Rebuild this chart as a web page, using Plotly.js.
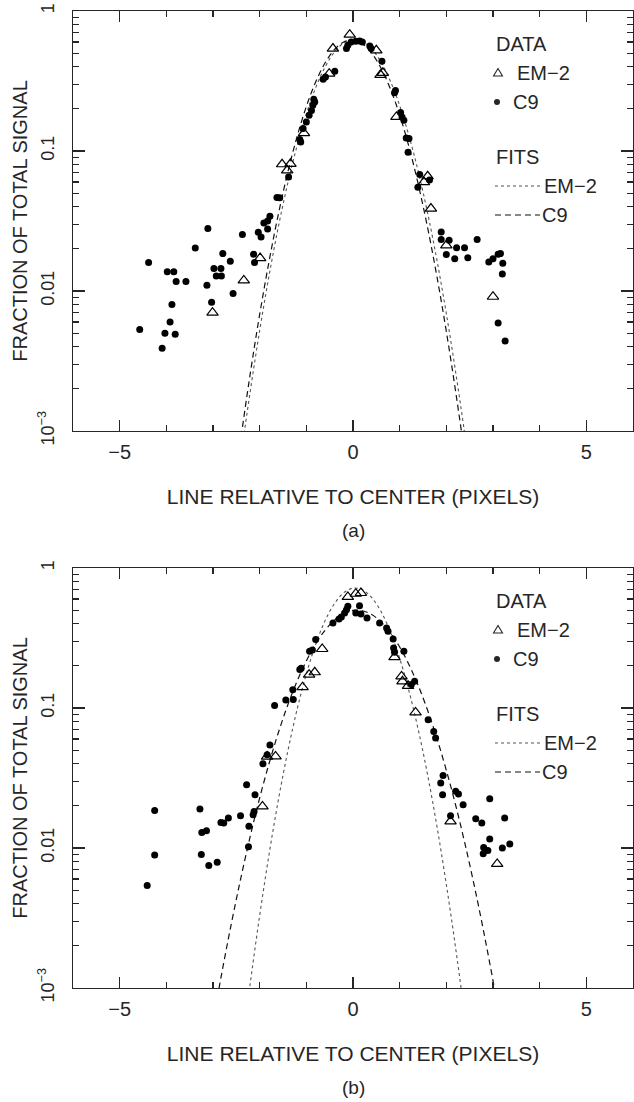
<!DOCTYPE html>
<html>
<head>
<meta charset="utf-8">
<script src="https://cdn.plot.ly/plotly-3.0.1.min.js"></script>
<style>html,body{margin:0;padding:0;background:#fff}#chart{width:634px;height:1102px}</style>
</head>
<body>
<div id="chart"></div>
<script>
// ---------- Panel (a) data ----------
const xC9a = [-4.57,-4.38,-4.09,-4.03,-3.98,-3.92,-3.88,-3.84,-3.81,-3.79,-3.58,-3.38,-3.13,-3.11,-3.03,-2.98,-2.93,-2.83,-2.82,-2.79,-2.63,-2.57,-2.37,-2.13,-2.11,-2.03,-1.97,-1.91,-1.83,-1.83,-1.78,-1.63,-1.57,-1.38,-1.14,-1.12,-1.07,-1.00,-0.94,-0.89,-0.86,-0.84,-0.82,-0.64,-0.59,-0.39,-0.14,-0.11,-0.04,0.06,0.14,0.20,0.36,0.39,0.62,0.89,0.91,1.02,1.05,1.09,1.14,1.18,1.20,1.39,1.43,1.64,1.89,1.89,2.00,2.06,2.18,2.22,2.39,2.46,2.66,2.91,3.00,3.11,3.16,3.21,3.20,3.11,3.26];
const yC9a = [0.0053,0.0160,0.0039,0.0050,0.0137,0.0060,0.0080,0.0137,0.0049,0.0117,0.0117,0.0203,0.0110,0.0280,0.0083,0.0145,0.0128,0.0145,0.0128,0.0185,0.0163,0.0096,0.0253,0.0183,0.0160,0.0263,0.0243,0.0306,0.0316,0.0277,0.0342,0.0465,0.0463,0.0652,0.1206,0.116,0.1445,0.161,0.180,0.195,0.212,0.234,0.224,0.325,0.338,0.371,0.539,0.569,0.601,0.608,0.610,0.600,0.562,0.539,0.437,0.261,0.270,0.188,0.175,0.166,0.124,0.098,0.123,0.055,0.068,0.062,0.0264,0.0233,0.0182,0.0230,0.0170,0.0204,0.0204,0.0173,0.0233,0.0161,0.0170,0.0183,0.0185,0.0158,0.0132,0.0059,0.0044];
const xEMa = [-3.01,-2.34,-1.99,-1.52,-1.41,-1.34,-1.05,-0.51,-0.43,-0.07,0.50,0.59,0.64,0.93,1.52,1.60,1.67,2.00,3.00];
const yEMa = [0.0070,0.0119,0.0172,0.0804,0.0728,0.0810,0.134,0.357,0.539,0.678,0.524,0.350,0.362,0.175,0.060,0.066,0.0388,0.0212,0.0091];
const fitXa = [-2.6,-2.4,-2.2,-2.0,-1.8,-1.6,-1.4,-1.2,-1.0,-0.8,-0.6,-0.4,-0.2,0,0.2,0.4,0.6,0.8,1.0,1.2,1.4,1.6,1.8,2.0,2.2,2.4,2.6];
const fitEMa = [0.00020,0.00066,0.00194,0.00522,0.0128,0.0287,0.0584,0.1085,0.1835,0.283,0.397,0.508,0.592,0.629,0.609,0.537,0.432,0.316,0.211,0.128,0.0710,0.0359,0.0165,0.0069,0.00263,0.00092,0.00029];
const fitC9a = [0.00029,0.00090,0.00259,0.0068,0.0162,0.0353,0.0699,0.126,0.208,0.311,0.425,0.529,0.600,0.619,0.583,0.500,0.391,0.278,0.181,0.107,0.0575,0.0282,0.0126,0.00514,0.00191,0.00065,0.00020];

// ---------- Panel (b) data ----------
const xC9b = [-4.41,-4.25,-4.25,-3.28,-3.25,-3.24,-3.14,-3.09,-2.91,-2.83,-2.77,-2.67,-2.41,-2.28,-2.24,-2.23,-2.14,-2.12,-2.10,-1.93,-1.84,-1.78,-1.68,-1.44,-1.28,-1.29,-1.14,-1.11,-0.93,-0.87,-0.80,-0.43,-0.30,-0.25,-0.18,-0.14,-0.11,0.06,0.14,0.17,0.30,0.57,0.72,0.75,0.86,0.87,0.89,1.09,1.25,1.32,1.61,1.73,1.77,1.88,1.92,1.93,2.09,2.20,2.26,2.36,2.63,2.76,2.79,2.80,2.89,2.93,2.93,3.20,3.25,3.36];
const yC9b = [0.0054,0.0185,0.0089,0.0190,0.0090,0.0129,0.0133,0.0075,0.0079,0.0152,0.0151,0.0164,0.0170,0.0283,0.0102,0.0143,0.0173,0.0182,0.0240,0.040,0.0464,0.0544,0.104,0.114,0.115,0.135,0.188,0.192,0.254,0.260,0.308,0.405,0.432,0.447,0.477,0.504,0.532,0.477,0.538,0.470,0.440,0.405,0.373,0.353,0.311,0.268,0.250,0.254,0.147,0.155,0.0825,0.068,0.061,0.0291,0.024,0.0330,0.0170,0.0254,0.0243,0.0204,0.0162,0.0151,0.0091,0.0101,0.0096,0.0225,0.0116,0.0100,0.0164,0.0107];
const xEMb = [-1.94,-1.84,-1.66,-1.08,-0.94,-0.82,-0.66,-0.11,0.06,0.17,0.89,1.04,1.06,1.18,1.34,2.09,3.09];
const yEMb = [0.0198,0.045,0.0451,0.141,0.173,0.180,0.264,0.621,0.655,0.663,0.231,0.168,0.155,0.144,0.093,0.0155,0.0077];
const fitXbEM = [-2.6,-2.4,-2.2,-2.0,-1.8,-1.6,-1.4,-1.2,-1.0,-0.8,-0.6,-0.4,-0.2,0,0.2,0.4,0.6,0.8,1.0,1.2,1.4,1.6,1.8,2.0,2.2,2.4,2.6];
const fitEMb = [0.000089,0.00033,0.00109,0.00329,0.00895,0.0220,0.0486,0.0971,0.175,0.285,0.419,0.555,0.665,0.718,0.700,0.615,0.489,0.350,0.226,0.132,0.0696,0.0331,0.0142,0.00549,0.00192,0.00061,0.00017];
const fitXbC9 = [-3.2,-3.0,-2.8,-2.6,-2.4,-2.2,-2.0,-1.8,-1.6,-1.4,-1.2,-1.0,-0.8,-0.6,-0.4,-0.2,0,0.2,0.4,0.6,0.8,1.0,1.2,1.4,1.6,1.8,2.0,2.2,2.4,2.6,2.8,3.0,3.2];
const fitC9b = [0.00023,0.00057,0.00134,0.00296,0.00618,0.0122,0.0228,0.0400,0.0666,0.1046,0.155,0.217,0.288,0.359,0.424,0.473,0.498,0.495,0.465,0.412,0.345,0.273,0.204,0.144,0.0960,0.0604,0.0359,0.0202,0.0107,0.00536,0.00253,0.00113,0.00048];

// ---------- Axis labels and texts ----------
const xTickVals = [-5,0,5];
const xTickText = ['\u22125','0','5'];
const xMinorVals = [-6,-4,-3,-2,-1,1,2,3,4,6];
const yTickVals = [0.001,0.01,0.1,1];
const yTickText = ['10<sup>\u22123</sup>','0.01','0.1','1'];
const yMinorVals = [0.002,0.003,0.004,0.005,0.006,0.007,0.008,0.009,0.02,0.03,0.04,0.05,0.06,0.07,0.08,0.09,0.2,0.3,0.4,0.5,0.6,0.7,0.8,0.9];
const xTitle = 'LINE RELATIVE TO CENTER (PIXELS)';
const yTitle = 'FRACTION OF TOTAL SIGNAL';
const panelLabels = ['(a)','(b)'];
const legendHead = ['DATA','FITS'];
const legendNames = ['EM\u22122','C9'];

const FONT = "'Liberation Sans',Arial,sans-serif";
const INK = '#262626';

function makeX(anchor){
  return {
    anchor: anchor, range:[-6,6], showline:true, linecolor:INK, linewidth:1.3, mirror:'ticks',
    ticks:'inside', ticklen:11, tickwidth:1.2, tickcolor:INK,
    tickmode:'array', tickvals:xTickVals, ticktext:xTickText,
    tickfont:{family:FONT, size:20, color:INK}, ticklabelstandoff:3,
    minor:{ticks:'inside', ticklen:6, tickwidth:1.2, tickcolor:INK, tickmode:'array', tickvals:xMinorVals, showgrid:false},
    showgrid:false, zeroline:false,
    title:{text:xTitle, font:{family:FONT, size:21, color:INK}, standoff:27}
  };
}
function makeY(anchor, domain){
  return {
    anchor: anchor, domain: domain, type:'log', range:[-3,0], showline:true, linecolor:INK, linewidth:1.3, mirror:'ticks',
    ticks:'inside', ticklen:12, tickwidth:1.2, tickcolor:INK,
    tickmode:'array', tickvals:yTickVals, ticktext:yTickText, tickangle:-90,
    tickfont:{family:FONT, size:18, color:INK}, ticklabelstandoff:11,
    minor:{ticks:'inside', ticklen:6, tickwidth:1.2, tickcolor:INK, tickmode:'array', tickvals:yMinorVals, showgrid:false},
    showgrid:false, zeroline:false,
    title:{text:yTitle, font:{family:FONT, size:20, color:INK}, standoff:2}
  };
}

function panelTraces(xa, ya, xC9, yC9, xEM, yEM, fxEM, fyEM, fxC9, fyC9){
  return [
    {type:'scatter', mode:'lines', x:fxEM, y:fyEM, xaxis:xa, yaxis:ya, line:{color:'#555', width:1.1, dash:'dot', shape:'spline'}, showlegend:false, hoverinfo:'skip'},
    {type:'scatter', mode:'lines', x:fxC9, y:fyC9, xaxis:xa, yaxis:ya, line:{color:'#111', width:1.2, dash:'6px,4px', shape:'spline'}, showlegend:false, hoverinfo:'skip'},
    {type:'scatter', mode:'markers', x:xC9, y:yC9, xaxis:xa, yaxis:ya, marker:{symbol:'circle', size:7, color:'#000'}, showlegend:false},
    {type:'scatter', mode:'markers', x:xEM, y:yEM, xaxis:xa, yaxis:ya, marker:{symbol:'triangle-up-open', size:10, color:'#000', line:{width:1.2, color:'#000'}}, showlegend:false}
  ];
}

const traces = [].concat(
  panelTraces('x','y', xC9a,yC9a, xEMa,yEMa, fitXa,fitEMa, fitXa,fitC9a),
  panelTraces('x2','y2', xC9b,yC9b, xEMb,yEMb, fitXbEM,fitEMb, fitXbC9,fitC9b)
);

// plot area: paper y=1 at py 11, paper y=0 at py 988 (977 px)
const H = 977, TOP = 11;
function py(p){ return (988 - p)/H; }
function px(p){ return (p - 73)/560; }

const annotations = [];
const shapes = [];
function addLegend(top){
  const tf = {family:FONT, size:20, color:INK};
  annotations.push({xref:'paper', yref:'paper', x:px(494), y:py(top+33), xanchor:'left', yanchor:'middle', text:legendHead[0], showarrow:false, font:tf});
  annotations.push({xref:'paper', yref:'paper', x:px(515), y:py(top+62), xanchor:'left', yanchor:'middle', text:legendNames[0], showarrow:false, font:tf});
  annotations.push({xref:'paper', yref:'paper', x:px(511), y:py(top+91), xanchor:'left', yanchor:'middle', text:legendNames[1], showarrow:false, font:tf});
  annotations.push({xref:'paper', yref:'paper', x:px(494), y:py(top+146), xanchor:'left', yanchor:'middle', text:legendHead[1], showarrow:false, font:tf});
  annotations.push({xref:'paper', yref:'paper', x:px(542), y:py(top+175), xanchor:'left', yanchor:'middle', text:legendNames[0], showarrow:false, font:tf});
  annotations.push({xref:'paper', yref:'paper', x:px(540), y:py(top+204), xanchor:'left', yanchor:'middle', text:legendNames[1], showarrow:false, font:tf});
  shapes.push({type:'path', xref:'paper', yref:'paper', xsizemode:'pixel', ysizemode:'pixel', xanchor:px(498), yanchor:py(top+62), path:'M-4.5,-3 L4.5,-3 L0,4.5 Z', line:{color:INK, width:1.1}, fillcolor:'rgba(0,0,0,0)'});
  shapes.push({type:'circle', xref:'paper', yref:'paper', xsizemode:'pixel', ysizemode:'pixel', xanchor:px(497), yanchor:py(top+91), x0:-3, x1:3, y0:-3, y1:3, line:{width:0}, fillcolor:INK});
  shapes.push({type:'line', xref:'paper', yref:'paper', x0:px(495), x1:px(542), y0:py(top+175), y1:py(top+175), line:{color:'#555', width:1.1, dash:'dot'}});
  shapes.push({type:'line', xref:'paper', yref:'paper', x0:px(495), x1:px(540), y0:py(top+204), y1:py(top+204), line:{color:'#111', width:1.2, dash:'6px,4px'}});
}
addLegend(11);
addLegend(568);
annotations.push({xref:'paper', yref:'paper', x:0.5, y:py(530), xanchor:'center', yanchor:'middle', text:panelLabels[0], showarrow:false, font:{family:FONT, size:19, color:INK}});
annotations.push({xref:'paper', yref:'paper', x:0.5, y:py(1087), xanchor:'center', yanchor:'middle', text:panelLabels[1], showarrow:false, font:{family:FONT, size:19, color:INK}});

const layout = {
  width:634, height:1102,
  margin:{l:73, r:1, t:TOP, b:114, pad:0},
  paper_bgcolor:'#fff', plot_bgcolor:'#fff',
  showlegend:false,
  font:{family:FONT, color:INK},
  xaxis: makeX('y'),
  yaxis: makeY('x', [1 - 420/H, 1]),
  xaxis2: makeX('y2'),
  yaxis2: makeY('x2', [0, 420/H]),
  annotations: annotations,
  shapes: shapes
};

Plotly.newPlot('chart', traces, layout, {displayModeBar:false, staticPlot:true});
</script>
</body>
</html>
